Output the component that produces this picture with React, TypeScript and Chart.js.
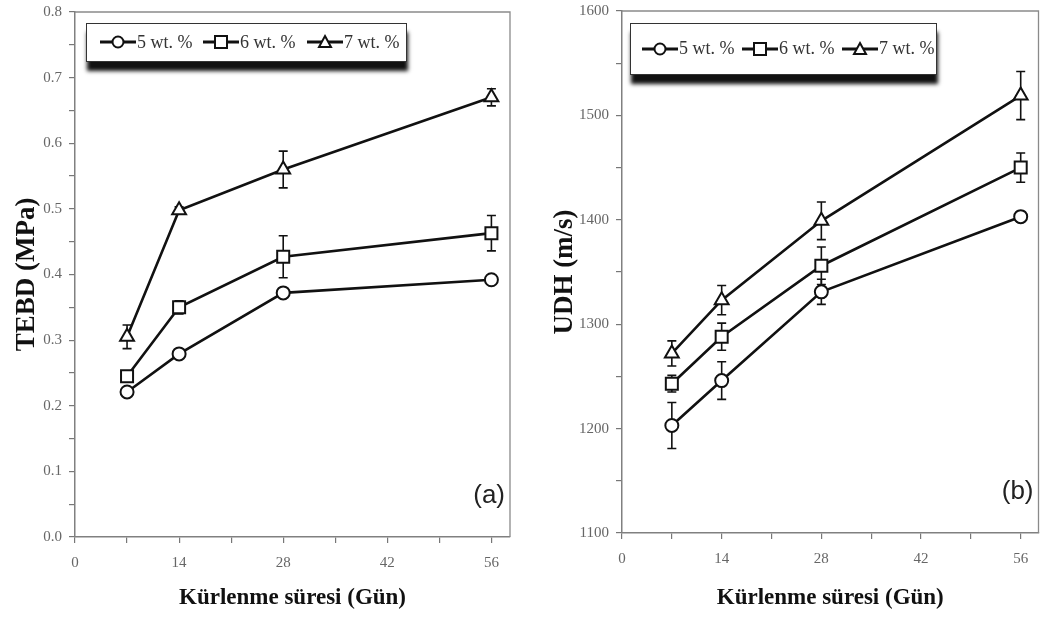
import React, { useEffect, useRef } from 'react';
import { Chart, registerables } from 'chart.js';
Chart.register(...registerables);

// ---------- data ----------
const days = [7, 14, 28, 56];
const seriesLabels = ['5 wt. %', '6 wt. %', '7 wt. %'];
const markerStyles = ['circle', 'rect', 'triangle'];
const markerRadii = [6.5, 8.5, 8];

const tebd5 = [0.221, 0.279, 0.372, 0.392];
const tebd6 = [0.245, 0.35, 0.427, 0.463];
const tebd7 = [0.305, 0.498, 0.56, 0.67];
const tebd5Err = [0.005, 0.006, 0.006, 0.006];
const tebd6Err = [0.008, 0.01, 0.032, 0.027];
const tebd7Err = [0.018, 0.005, 0.028, 0.013];

const udh5 = [1203, 1246, 1331, 1403];
const udh6 = [1243, 1288, 1356, 1450];
const udh7 = [1272, 1323, 1399, 1519];
const udh5Err = [22, 18, 12, 5];
const udh6Err = [8, 13, 18, 14];
const udh7Err = [12, 14, 18, 23];

const xTicks = [0, 7, 14, 21, 28, 35, 42, 49, 56];
const xTickLabels = [0, 14, 28, 42, 56];
const tebdTicks = [0, 0.05, 0.1, 0.15, 0.2, 0.25, 0.3, 0.35, 0.4, 0.45, 0.5, 0.55, 0.6, 0.65, 0.7, 0.75, 0.8];
const tebdMajor = [0, 0.1, 0.2, 0.3, 0.4, 0.5, 0.6, 0.7, 0.8];
const udhTicks = [1100, 1150, 1200, 1250, 1300, 1350, 1400, 1450, 1500, 1550, 1600];
const udhMajor = [1100, 1200, 1300, 1400, 1500, 1600];

const xTitle = 'Kürlenme süresi (Gün)';
const SERIF = '"Liberation Serif", "Times New Roman", serif';
const SANS = '"Liberation Sans", Arial, sans-serif';

// ---------- plugins ----------
const errorBarPlugin = {
  id: 'errorBars',
  beforeDatasetsDraw(chart: any) {
    const ctx = chart.ctx;
    const xs = chart.scales.x;
    const ys = chart.scales.y;
    ctx.save();
    ctx.strokeStyle = '#111';
    ctx.lineWidth = 1.6;
    chart.data.datasets.forEach((ds: any) => {
      const errs = ds.errors || [];
      ds.data.forEach((pt: any, i: number) => {
        const e = errs[i];
        if (!e) return;
        const px = xs.getPixelForValue(pt.x);
        const y1 = ys.getPixelForValue(pt.y + e);
        const y2 = ys.getPixelForValue(pt.y - e);
        ctx.beginPath();
        ctx.moveTo(px, y1);
        ctx.lineTo(px, y2);
        ctx.moveTo(px - 4.5, y1);
        ctx.lineTo(px + 4.5, y1);
        ctx.moveTo(px - 4.5, y2);
        ctx.lineTo(px + 4.5, y2);
        ctx.stroke();
      });
    });
    ctx.restore();
  },
};

const framePlugin = {
  id: 'panelFrame',
  afterDraw(chart: any, _args: any, opts: any) {
    const { ctx, chartArea } = chart;
    ctx.save();
    ctx.strokeStyle = '#8a8a8a';
    ctx.lineWidth = 1.3;
    ctx.beginPath();
    ctx.moveTo(chartArea.left, chartArea.top);
    ctx.lineTo(chartArea.right, chartArea.top);
    ctx.lineTo(chartArea.right, chartArea.bottom);
    ctx.stroke();
    if (opts && opts.label) {
      ctx.fillStyle = '#222';
      ctx.font = '26px ' + SANS;
      ctx.textAlign = 'right';
      ctx.textBaseline = 'middle';
      ctx.fillText(opts.label, chartArea.right - 5, chartArea.bottom - 41);
    }
    ctx.restore();
  },
};

function buildConfig(p: any) {
  const datasets = p.series.map((vals: number[], i: number) => ({
    label: seriesLabels[i],
    data: days.map((d, j) => ({ x: d, y: vals[j] })),
    errors: p.errors[i],
    borderColor: '#111',
    borderWidth: 2.6,
    pointStyle: markerStyles[i],
    pointRadius: markerRadii[i],
    pointBorderWidth: 2,
    pointBackgroundColor: '#fff',
    pointBorderColor: '#111',
    fill: false,
    tension: 0,
  }));
  const tickFont = { family: SERIF, size: 15 };
  return {
    type: 'line',
    data: { datasets },
    options: {
      animation: false,
      responsive: false,
      devicePixelRatio: 1,
      layout: { padding: p.padding },
      plugins: {
        legend: { display: false },
        tooltip: { enabled: false },
        panelFrame: { label: p.panelLabel },
      },
      scales: {
        x: {
          type: 'linear',
          min: 0,
          max: 58.5,
          afterBuildTicks: (ax: any) => {
            ax.ticks = xTicks.map((v) => ({ value: v }));
          },
          afterFit: (ax: any) => {
            ax.height = p.xAxisHeight;
          },
          ticks: {
            autoSkip: false,
            maxRotation: 0,
            padding: 11,
            color: '#666',
            font: tickFont,
            callback: (v: any) => (xTickLabels.includes(v) ? String(v) : ''),
          },
          grid: { drawOnChartArea: false, tickLength: 6, color: '#777', lineWidth: 1.2 },
          border: { color: '#808080', width: 1.5 },
          title: {
            display: true,
            text: xTitle,
            color: '#111',
            font: { family: SERIF, size: 23, weight: 'bold' },
            padding: { top: 0, bottom: 6 },
          },
        },
        y: {
          type: 'linear',
          min: p.yMin,
          max: p.yMax,
          afterBuildTicks: (ax: any) => {
            ax.ticks = p.yTicks.map((v: number) => ({ value: v }));
          },
          afterFit: (ax: any) => {
            ax.width = p.yAxisWidth;
          },
          ticks: {
            autoSkip: false,
            padding: 7,
            color: '#666',
            font: tickFont,
            callback: (v: any) => {
              const m = p.yMajor.find((t: number) => Math.abs(t - v) < 1e-9);
              return m === undefined ? '' : p.fmt(m);
            },
          },
          grid: { drawOnChartArea: false, tickLength: 6, color: '#777', lineWidth: 1.2 },
          border: { color: '#808080', width: 1.5 },
          title: {
            display: true,
            text: p.yTitle,
            color: '#111',
            font: { family: SERIF, size: 27, weight: 'bold' },
            padding: { top: p.yTitlePad, bottom: 0 },
          },
        },
      },
    },
    plugins: [errorBarPlugin, framePlugin],
  };
}

function ChartPanel({ left, top, width, params }: any) {
  const ref = useRef<HTMLCanvasElement | null>(null);
  const h = 618 - top;
  useEffect(() => {
    if (!ref.current) return;
    const chart = new Chart(ref.current, buildConfig(params) as any);
    return () => chart.destroy();
  }, []);
  return (
    <canvas
      ref={ref}
      width={width}
      height={h}
      style={{ position: 'absolute', left, top, width, height: h, display: 'block' }}
    />
  );
}

function Marker({ kind }: { kind: string }) {
  return (
    <svg width={36} height={18} style={{ display: 'block' }}>
      <line x1={0} y1={9} x2={36} y2={9} stroke="#111" strokeWidth={3} />
      {kind === 'circle' && <circle cx={18} cy={9} r={5.5} fill="#fff" stroke="#111" strokeWidth={2} />}
      {kind === 'rect' && <rect x={12} y={3} width={12} height={12} fill="#fff" stroke="#111" strokeWidth={2} />}
      {kind === 'triangle' && <polygon points="18,3 24,14 12,14" fill="#fff" stroke="#111" strokeWidth={2} />}
    </svg>
  );
}

function LegendBox({ left, top, width, height, itemLefts }: any) {
  return (
    <div
      style={{
        position: 'absolute',
        left,
        top,
        width,
        height,
        boxSizing: 'border-box',
        border: '1.5px solid #333',
        background: '#fff',
        boxShadow: '1px 9px 4px #111',
      }}
    >
      {seriesLabels.map((lab, i) => (
        <div
          key={lab}
          style={{
            position: 'absolute',
            left: itemLefts[i],
            top: 0,
            height: height - 3,
            display: 'flex',
            alignItems: 'center',
            whiteSpace: 'nowrap',
          }}
        >
          <Marker kind={markerStyles[i]} />
          <span style={{ fontFamily: SERIF, fontSize: 18, color: '#333', marginLeft: 1 }}>{lab}</span>
        </div>
      ))}
    </div>
  );
}

const leftParams = {
  series: [tebd5, tebd6, tebd7],
  errors: [tebd5Err, tebd6Err, tebd7Err],
  yMin: 0,
  yMax: 0.8,
  yTicks: tebdTicks,
  yMajor: tebdMajor,
  fmt: (v: number) => Number(v).toFixed(1),
  yTitle: 'TEBD (MPa)',
  yTitlePad: 11,
  yAxisWidth: 75,
  xAxisHeight: 81,
  padding: { left: 0, top: 7, right: 18, bottom: 0 },
  panelLabel: '(a)',
};

const rightParams = {
  series: [udh5, udh6, udh7],
  errors: [udh5Err, udh6Err, udh7Err],
  yMin: 1100,
  yMax: 1600,
  yTicks: udhTicks,
  yMajor: udhMajor,
  fmt: (v: number) => String(Math.round(v)),
  yTitle: 'UDH (m/s)',
  yTitlePad: 21,
  yAxisWidth: 94,
  xAxisHeight: 85,
  padding: { left: 0, top: 5, right: 9, bottom: 0 },
  panelLabel: '(b)',
};

export default function App() {
  return (
    <div style={{ position: 'absolute', left: 0, top: 0, width: 1049, height: 618, background: '#fff', overflow: 'hidden' }}>
      <ChartPanel left={0} top={-4} width={528} params={leftParams} />
      <ChartPanel left={528} top={-5} width={521} params={rightParams} />
      <LegendBox left={86} top={23} width={321} height={39} itemLefts={[13, 116, 220]} />
      <LegendBox left={630} top={23} width={307} height={52} itemLefts={[11, 111, 211]} />
    </div>
  );
}
